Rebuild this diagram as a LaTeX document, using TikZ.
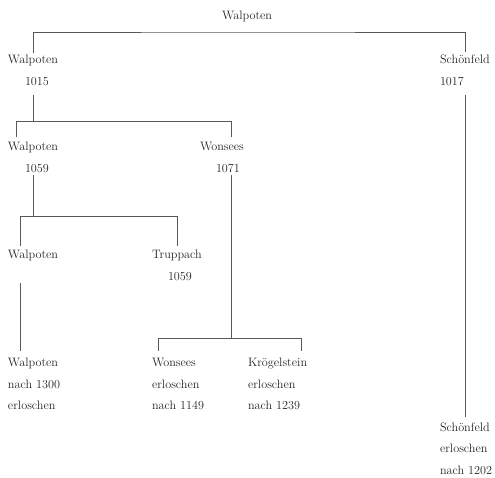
\documentclass[tikz,border=0pt]{standalone}
\usepackage{tikz}
\tikzset{
  lbl/.style={anchor=base west, inner sep=0pt, outer sep=0pt, font=\fontsize{12.2}{15}\selectfont, text=black!85},
  ast/.style={draw=black!65, line width=0.7pt}
}

\begin{document}
\begin{tikzpicture}[x=1pt, y=-1pt]
			%%%%% START %%%%%
			
			\useasboundingbox (0, 0) rectangle (495, 477);
			
			\node[lbl] (root) at (222, 19) {Walpoten};
			
			\node[lbl] (walA) at (8, 63) {Walpoten};
			\node[lbl] (yrA) at (25, 85) {1015};
			\node[lbl] (schA) at (440, 63) {Schönfeld};
			\node[lbl] (yrS) at (440, 85) {1017};
			
			\node[lbl] (walB) at (8, 150) {Walpoten};
			\node[lbl] (yrB) at (25, 172) {1059};
			\node[lbl] (wonA) at (200, 150) {Wonsees};
			\node[lbl] (yrW) at (216, 172) {1071};
			
			\node[lbl] (walC) at (8, 258) {Walpoten};
			\node[lbl] (trup) at (152, 258) {Truppach};
			\node[lbl] (yrT) at (168, 280) {1059};
			
			\node[lbl] (walD) at (8, 366) {Walpoten};
			\node[lbl] (walD2) at (8, 388) {nach 1300};
			\node[lbl] (walD3) at (8, 409) {erloschen};
			
			\node[lbl] (wonB) at (152, 366) {Wonsees};
			\node[lbl] (wonB2) at (152, 388) {erloschen};
			\node[lbl] (wonB3) at (152, 409) {nach 1149};
			
			\node[lbl] (kroe) at (248, 366) {Krögelstein};
			\node[lbl] (kroe2) at (248, 388) {erloschen};
			\node[lbl] (kroe3) at (248, 409) {nach 1239};
			
			\node[lbl] (schB) at (440, 431) {Schönfeld};
			\node[lbl] (schB2) at (440, 452) {erloschen};
			\node[lbl] (schB3) at (440, 474) {nach 1202};
			
			\coordinate (bar0) at (247, 32);
			\coordinate (bar1) at (16, 121);
			\coordinate (bar1r) at (231, 121);
			\coordinate (bar2) at (20, 216);
			\coordinate (bar3) at (231, 338);
			\coordinate (bar3l) at (158, 338);
			\coordinate (bar3r) at (301, 338);
			
			% root
			\draw[ast, shorten <=2pt, shorten >=2pt] (walA.north) |- (bar0) -| (schA.north);
			
			% Walpoten 1015
			\draw[ast, shorten <=10pt] (walA |- yrA.south) -- (walA |- bar1);
			\draw[ast, shorten <=5pt, shorten >=5pt] (walB.north -| bar1) |- (bar1r) -- (wonA.north -| bar1r);
			
			% Walpoten 1059
			\draw[ast, shorten <=3pt] (walB |- yrB.south) -- (walB |- bar2);
			\draw[ast, shorten <=4pt, shorten >=4pt] (walC.north -| bar2) |- (bar2 -| trup.north) -- (trup.north);
			
			% Walpoten
			\draw[ast, shorten <=23pt, shorten >=7pt] (walC.south -| bar2) -- (walD.north -| bar2);
			
			% Wonsees 1071
			\draw[ast, shorten <=3pt] (bar3 |- yrW.south) -- (bar3);
			\draw[ast, shorten <=7pt, shorten >=7pt] (wonB.north -| bar3l) |- (bar3r) -- (kroe.north -| bar3r);
			
			% Schoenfeld 1017
			\draw[ast, shorten <=10pt, shorten >=5pt] (schA |- yrS.south) -- (schB.north);
			
			%%%%% END %%%%%
\end{tikzpicture}
\end{document}
